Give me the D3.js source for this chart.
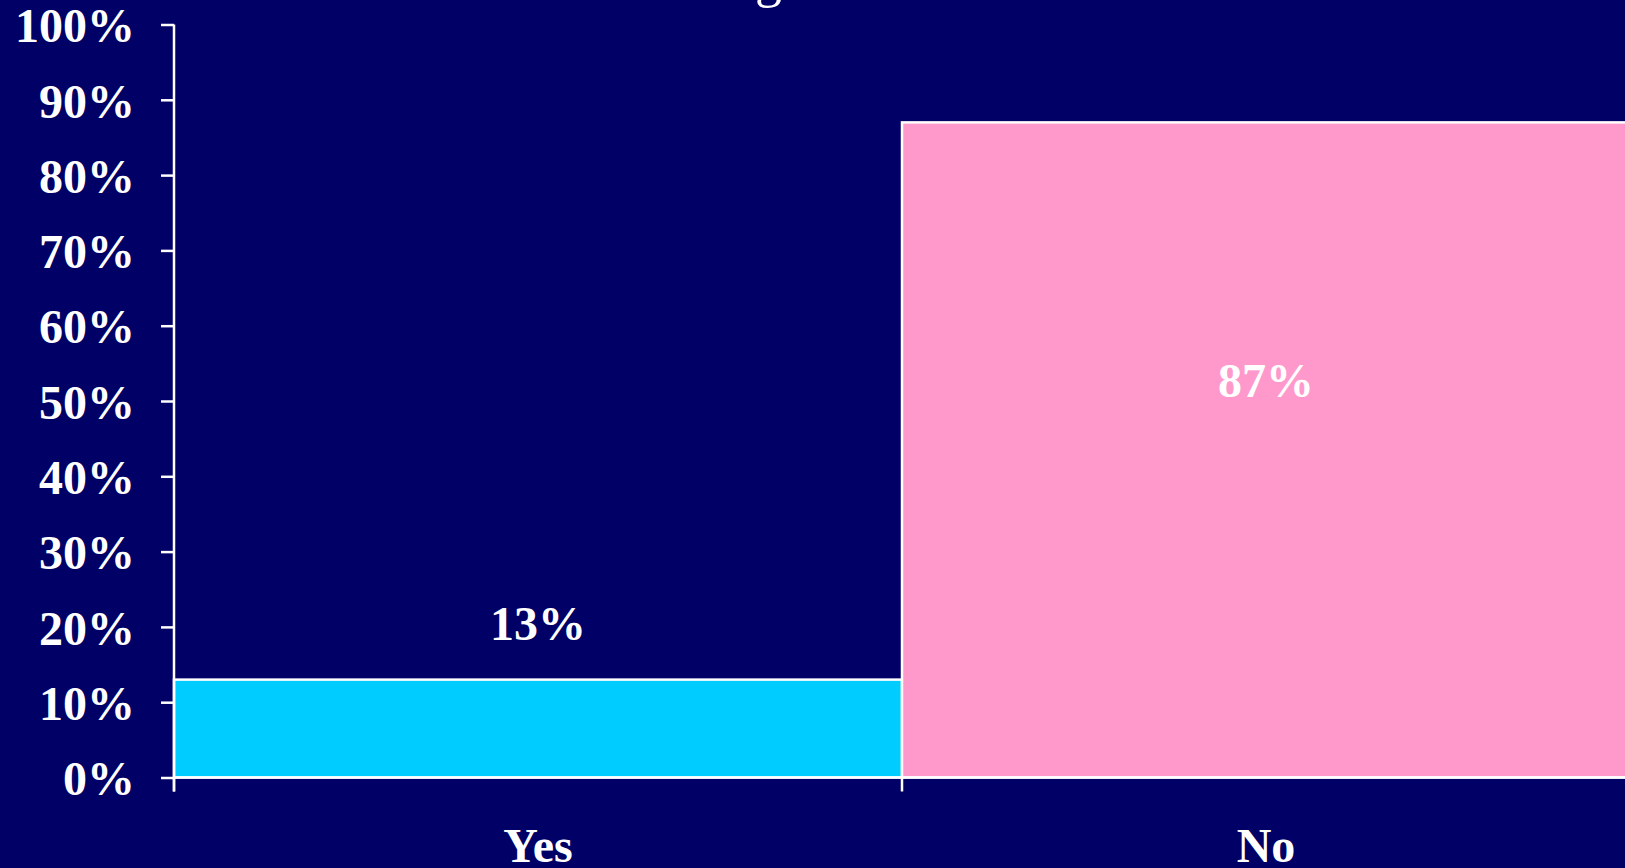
<!DOCTYPE html>
<html>
<head>
<meta charset="utf-8">
<script src="https://cdn.jsdelivr.net/npm/d3@7"></script>
<style>
  html, body { margin: 0; padding: 0; background: #000066; overflow: hidden; }
  svg { display: block; }
</style>
</head>
<body>
<div id="chart"></div>
<script>
// data
const categories = ['Yes', 'No'];
const values     = [13, 87];
const labelAt    = [20.5, 52.8];   // where the value labels sit, in axis units
const colors     = ['#00CCFF', '#FF99CC'];
const yTicks     = [0, 10, 20, 30, 40, 50, 60, 70, 80, 90, 100];
const title      = 'Screening';

const W = 1625, H = 868;
const FONT = '"Liberation Serif", "Times New Roman", serif';
const FS = '48px';

const svg = d3.select('#chart').append('svg').attr('width', W).attr('height', H);
svg.append('rect').attr('width', W).attr('height', H).attr('fill', '#000066');

const x = d3.scaleBand().domain(categories).range([174, 1630]).padding(0);
const y = d3.scaleLinear().domain([0, 100]).range([777.5, 24.5]);

// title, mostly above the top edge like in the reference
svg.append('text').attr('x', 782).attr('y', -4)
  .attr('text-anchor', 'end').attr('font-family', FONT)
  .attr('font-size', '54px').attr('fill', '#fff')
  .text(title);

// bars
svg.selectAll('rect.bar').data(values).enter().append('rect')
  .attr('class', 'bar')
  .attr('x', (d, i) => x(categories[i]))
  .attr('width', x.bandwidth())
  .attr('y', d => y(d))
  .attr('height', d => y(0) - y(d))
  .attr('fill', (d, i) => colors[i])
  .attr('stroke', '#fff').attr('stroke-width', 2.5);

// value labels
svg.selectAll('text.val').data(values).enter().append('text')
  .attr('class', 'val')
  .attr('x', (d, i) => x(categories[i]) + x.bandwidth() / 2)
  .attr('y', (d, i) => y(labelAt[i]))
  .attr('dy', '0.35em')
  .attr('text-anchor', 'middle').attr('font-family', FONT)
  .attr('font-weight', 'bold').attr('font-size', FS).attr('fill', '#fff')
  .text(d => d + '%');

// y axis
const yAxis = svg.append('g').attr('transform', 'translate(174,0)')
  .call(d3.axisLeft(y).tickValues(yTicks).tickSize(13).tickPadding(26)
    .tickFormat(d => d + '%'));
yAxis.select('.domain').remove();
yAxis.selectAll('.tick line').attr('stroke', '#fff').attr('stroke-width', 2.5);
yAxis.selectAll('.tick text')
  .attr('dy', '0.36em')
  .attr('fill', '#fff').attr('font-family', FONT)
  .attr('font-weight', 'bold').attr('font-size', FS);

svg.append('line')
  .attr('x1', 174).attr('x2', 174)
  .attr('y1', y(100)).attr('y2', y(0) + 14)
  .attr('stroke', '#fff').attr('stroke-width', 2.5);

// x axis: baseline, boundary ticks, category labels
svg.append('line')
  .attr('x1', 174).attr('x2', 1630)
  .attr('y1', y(0)).attr('y2', y(0))
  .attr('stroke', '#fff').attr('stroke-width', 2.5);

const bounds = categories.map(c => x(c)).concat([x(categories[categories.length - 1]) + x.bandwidth()]);
svg.selectAll('line.xtick').data(bounds).enter().append('line')
  .attr('class', 'xtick')
  .attr('x1', d => d).attr('x2', d => d)
  .attr('y1', y(0)).attr('y2', y(0) + 14)
  .attr('stroke', '#fff').attr('stroke-width', 2.5);

svg.selectAll('text.cat').data(categories).enter().append('text')
  .attr('class', 'cat')
  .attr('x', d => x(d) + x.bandwidth() / 2)
  .attr('y', 862)
  .attr('text-anchor', 'middle').attr('font-family', FONT)
  .attr('font-weight', 'bold').attr('font-size', FS).attr('fill', '#fff')
  .text(d => d);
</script>
</body>
</html>
